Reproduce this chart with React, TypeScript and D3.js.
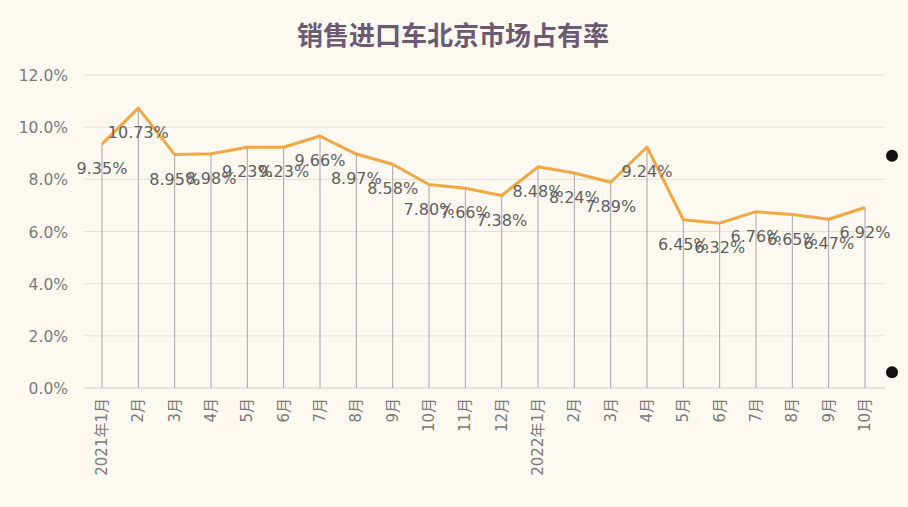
import React, { useEffect, useRef } from 'react';
import * as d3 from 'd3';

const months = [
  '2021年1月', '2月', '3月', '4月', '5月', '6月', '7月', '8月', '9月', '10月', '11月', '12月',
  '2022年1月', '2月', '3月', '4月', '5月', '6月', '7月', '8月', '9月', '10月',
];
const share = [
  9.35, 10.73, 8.95, 8.98, 9.23, 9.23, 9.66, 8.97, 8.58, 7.80, 7.66, 7.38,
  8.48, 8.24, 7.89, 9.24, 6.45, 6.32, 6.76, 6.65, 6.47, 6.92,
];
const yTicks = [0, 2, 4, 6, 8, 10, 12];

const W = 908;
const H = 507;
const FONT = '"DejaVu Sans", "Noto Sans CJK JP", sans-serif';
const TITLE_FONT = '"Noto Sans CJK SC", sans-serif';

const App: React.FC = () => {
  const svgRef = useRef<SVGSVGElement>(null);

  useEffect(() => {
    document.body.style.margin = '0';
    if (!svgRef.current) return;
    const svg = d3.select(svgRef.current);
    svg.selectAll('*').remove();

    const x = d3.scalePoint<number>().domain(d3.range(months.length)).range([102, 865]);
    const y = d3.scaleLinear().domain([0, 12]).range([388, 75]);

    svg.append('rect').attr('width', W).attr('height', H).attr('fill', '#fdf9f1');

    // title
    svg.append('text')
      .attr('x', 453).attr('y', 45)
      .attr('text-anchor', 'middle')
      .attr('font-family', TITLE_FONT)
      .attr('font-weight', 'bold')
      .attr('font-size', 26)
      .attr('fill', '#6b5a72')
      .text('销售进口车北京市场占有率');

    // grid
    svg.append('g').selectAll('line').data(yTicks).enter().append('line')
      .attr('x1', 84).attr('x2', 885)
      .attr('y1', d => y(d)).attr('y2', d => y(d))
      .attr('stroke', d => (d === 0 ? '#d2cdc8' : '#e4e0da'))
      .attr('stroke-width', 1);

    svg.append('g').selectAll('text').data(yTicks).enter().append('text')
      .attr('x', 68).attr('y', d => y(d) + 6)
      .attr('text-anchor', 'end')
      .attr('font-family', FONT)
      .attr('font-size', 15.5)
      .attr('fill', '#7a7a7a')
      .text(d => d.toFixed(1) + '%');

    // drop lines
    svg.append('g').selectAll('line').data(share).enter().append('line')
      .attr('x1', (_, i) => x(i)!).attr('x2', (_, i) => x(i)!)
      .attr('y1', d => y(d)).attr('y2', y(0))
      .attr('stroke', '#a9a1b2')
      .attr('stroke-width', 1);

    // line
    const line = d3.line<number>().x((_, i) => x(i)!).y(d => y(d));
    svg.append('path')
      .datum(share)
      .attr('d', line)
      .attr('fill', 'none')
      .attr('stroke', '#f0a843')
      .attr('stroke-width', 3)
      .attr('stroke-linejoin', 'round');

    // value labels
    svg.append('g').selectAll('text').data(share).enter().append('text')
      .attr('x', (_, i) => x(i)!).attr('y', d => y(d) + 30)
      .attr('text-anchor', 'middle')
      .attr('font-family', FONT)
      .attr('font-size', 16)
      .attr('fill', '#5f5f5f')
      .text(d => d.toFixed(2) + '%');

    // x labels
    svg.append('g').selectAll('text').data(months).enter().append('text')
      .attr('transform', (_, i) => `translate(${x(i)! + 5},${398}) rotate(-90)`)
      .attr('text-anchor', 'end')
      .attr('font-family', FONT)
      .attr('font-size', 15)
      .attr('fill', '#7a7a7a')
      .text(d => d);

    // stray legend dots
    svg.append('g').selectAll('circle').data([8.9, 0.6]).enter().append('circle')
      .attr('cx', 892).attr('cy', d => y(d))
      .attr('r', 6)
      .attr('fill', '#111');
  }, []);

  return <svg ref={svgRef} width={W} height={H} style={{ display: 'block' }} />;
};

export default App;
